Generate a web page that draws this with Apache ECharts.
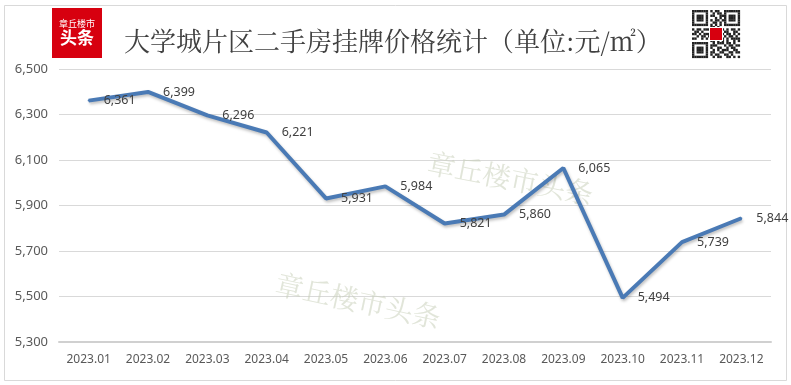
<!DOCTYPE html>
<html><head><meta charset="utf-8">
<script src="https://cdn.jsdelivr.net/npm/echarts@6/dist/echarts.min.js"></script>
<style>html,body{margin:0;padding:0;background:#fff}#c{width:791px;height:385px}</style>
</head><body><div id="c"></div>
<script>
const categories = ['2023.01','2023.02','2023.03','2023.04','2023.05','2023.06','2023.07','2023.08','2023.09','2023.10','2023.11','2023.12'];
const prices = [6361, 6399, 6296, 6221, 5931, 5984, 5821, 5860, 6065, 5494, 5739, 5844];
const yTicks = [5300, 5500, 5700, 5900, 6100, 6300, 6500];
const titleText = '大学城片区二手房挂牌价格统计（单位:元/㎡）';
const watermark = '章丘楼市头条';

function fmt(v){ return String(v).replace(/\B(?=(\d{3})+(?!\d))/g, ','); }

const qr = [
"111111101011001111111",
"100000100101101000001",
"101110101100111011101",
"101110100010101011101",
"101110101011011011101",
"100000100110101000001",
"111111101010101111111",
"000000001101000000000",
"101101110100110101101",
"011010001011101100110",
"110101110010010110101",
"001011011101101011010",
"110010101010010101111",
"000000001101010100101",
"111111100101110110100",
"100000101110001011011",
"101110101001100101100",
"101110100101011100110",
"101110101100110011011",
"100000101011001101000",
"111111100101100110101"
];
const graphics = [];
graphics.push({type:'rect', shape:{x:4.5,y:5.5,width:782,height:375}, style:{fill:'none', stroke:'#d9d9d9', lineWidth:1}, z:0});
// logo
graphics.push({type:'rect', shape:{x:52,y:8,width:50,height:50}, style:{fill:'#d7000f'}});
graphics.push({type:'text', x:77, y:24, style:{text:'章丘楼市', fill:'#fff', font:'9px "Noto Sans CJK SC"', textAlign:'center', textVerticalAlign:'middle'}});
graphics.push({type:'text', x:77, y:38, style:{text:'头条', fill:'#fff', font:'bold 17px "Noto Sans CJK SC"', textAlign:'center', textVerticalAlign:'middle'}});
// title
graphics.push({type:'text', x:124, y:41, style:{text:titleText, fill:'#404040', font:'26px "Noto Serif CJK SC","Noto Sans CJK SC"', textVerticalAlign:'middle'}});
// QR
const ms = 48/21;
for (let r=0;r<qr.length;r++){ for (let c=0;c<qr[r].length;c++){ if(qr[r][c]==='1'){ graphics.push({type:'rect', shape:{x:692+c*ms, y:10+r*ms, width:ms+0.1, height:ms+0.1}, style:{fill:'#222'}}); } } }
graphics.push({type:'rect', shape:{x:709,y:27,width:14,height:14}, style:{fill:'#fff'}});
graphics.push({type:'rect', shape:{x:710,y:28,width:12,height:12}, style:{fill:'#d7000f'}});
// watermarks
graphics.push({type:'text', x:428, y:162, rotation:-11*Math.PI/180, style:{text:watermark, fill:'rgba(200,208,185,0.55)', font:'28px "Noto Serif CJK SC","Noto Sans CJK SC"', textVerticalAlign:'middle'}, z:1});
graphics.push({type:'text', x:276, y:283, rotation:-12*Math.PI/180, style:{text:watermark, fill:'rgba(200,208,185,0.55)', font:'28px "Noto Serif CJK SC","Noto Sans CJK SC"', textVerticalAlign:'middle'}, z:1});

const chart = echarts.init(document.getElementById('c'));
chart.setOption({
  animation:false,
  backgroundColor:'#fff',
  textStyle:{fontFamily:'"Noto Sans", sans-serif'},
  grid:{left:59, right:20, top:69, bottom:43},
  graphic: graphics,
  xAxis:{type:'category', data:categories, boundaryGap:true,
    axisTick:{show:false},
    axisLine:{lineStyle:{color:'#d0d0d0', width:2}},
    axisLabel:{color:'#595959', fontSize:12, margin:12, interval:0}},
  yAxis:{type:'value', min:yTicks[0], max:yTicks[yTicks.length-1], interval:200,
    axisLine:{show:false}, axisTick:{show:false},
    axisLabel:{color:'#595959', fontSize:13, margin:11, formatter:v=>fmt(v)},
    splitLine:{lineStyle:{color:'#d9d9d9'}}},
  series:[{type:'line', data:prices, z:5,
    symbol:'circle', symbolSize:2,
    itemStyle:{color:'#4a7ab5'},
    lineStyle:{color:'#4a7ab5', width:4, shadowColor:'rgba(0,0,0,0.25)', shadowBlur:3, shadowOffsetY:2, shadowOffsetX:1},
    label:{show:true, position:'right', distance:14, color:'#404040', fontSize:12.5, formatter:p=>fmt(p.value)}
  }]
});
</script></body></html>
